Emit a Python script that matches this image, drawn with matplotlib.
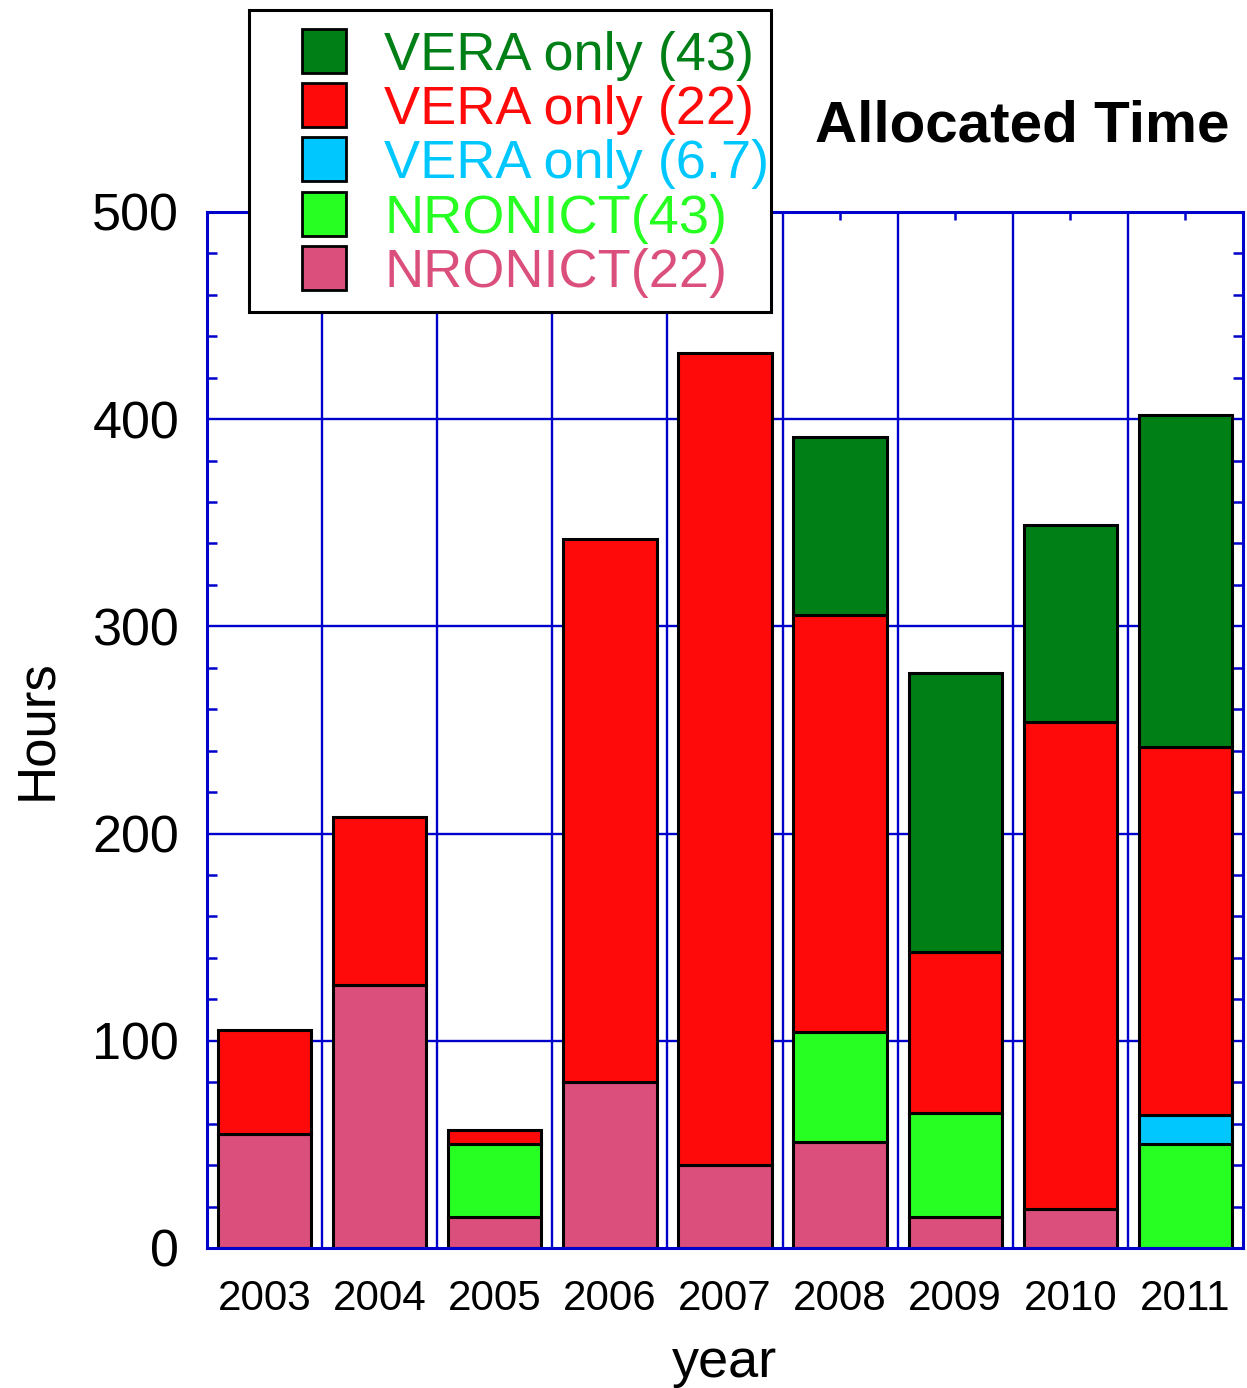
import numpy as np
import matplotlib
matplotlib.use("Agg")
import matplotlib.pyplot as plt
from matplotlib.lines import Line2D
from matplotlib.patches import Rectangle

plt.rcParams['font.family'] = ['Liberation Sans', 'DejaVu Sans']

years = ['2003', '2004', '2005', '2006', '2007', '2008', '2009', '2010', '2011']
nronict22 = [55, 127, 15, 80, 40, 51, 15, 19, 0]
nronict43 = [0, 0, 35, 0, 0, 53, 50, 0, 50]
vera67 = [0, 0, 0, 0, 0, 0, 0, 0, 14]
vera22 = [50, 81, 7, 262, 392, 201.5, 78, 235, 178]
vera43 = [0, 0, 0, 0, 0, 86, 134.5, 95, 160]

series = [
    ("NRONICT(22)", nronict22, '#DB4F7C'),
    ("NRONICT(43)", nronict43, '#27FF22'),
    ("VERA only (6.7)", vera67, '#00C8FF'),
    ("VERA only (22)", vera22, '#FF0A0A'),
    ("VERA only (43)", vera43, '#007F16'),
]

blue = '#0000CC'

fig = plt.figure(figsize=(12.47, 13.88), dpi=100)
ax = fig.add_axes([0.166, 0.1009, 0.8308, 0.7464])

x = np.arange(1, len(years) + 1)
bottom = np.zeros(len(years))
for name, vals, col in series:
    vals = np.array(vals, dtype=float)
    m = vals > 0
    ax.bar(x[m], vals[m], bottom=bottom[m], width=0.81, color=col,
           edgecolor='black', linewidth=2.2, zorder=3)
    bottom += vals

ax.set_xlim(0.5, len(years) + 0.5)
ax.set_ylim(0, 500)

# grid: horizontal at major y ticks, vertical between categories
for yv in [100, 200, 300, 400]:
    ax.axhline(yv, color=blue, linewidth=1.7, zorder=1)
for xv in x[:-1] + 0.5:
    ax.axvline(xv, color=blue, linewidth=1.7, zorder=1)

ax.set_xticks(x)
ax.set_xticklabels(years)
ax.set_yticks([0, 100, 200, 300, 400, 500])
ax.set_yticks(np.arange(0, 501, 20), minor=True)

ax.tick_params(axis='x', which='major', direction='in', length=6, width=1.8,
               color=blue, top=True, bottom=True, labelsize=30.3, pad=22)
ax.tick_params(axis='y', which='major', direction='in', length=0, width=1.8,
               color=blue, left=True, right=True, labelsize=37.5, pad=20)
ax.tick_params(axis='y', which='minor', direction='in', length=7, width=1.8,
               color=blue, left=True, right=True)

for s in ax.spines.values():
    s.set_color(blue)
    s.set_linewidth(2.2)
    s.set_zorder(5)

ax.set_xlabel('year', fontsize=39, labelpad=14)
ax.set_ylabel('Hours', fontsize=38, labelpad=22)

fig.text(0.9856, 0.8977, 'Allocated Time', fontsize=42, fontweight='bold',
         ha='right', va='baseline')

# legend box (text runs right up to the frame, as in the original)
W, H = fig.get_size_inches() * fig.dpi
fig.patches.append(Rectangle((249 / W, 1 - 312 / H), 522 / W, 302 / H,
                             transform=fig.transFigure, facecolor='white',
                             edgecolor='black', linewidth=2.2, zorder=4))

handles = []
labels = []
for name, vals, col in series[::-1]:
    handles.append(Line2D([], [], linestyle='none', marker='s', markersize=31,
                          markerfacecolor=col, markeredgecolor='black',
                          markeredgewidth=2.0))
    labels.append(name)

leg = fig.legend(handles, labels, loc='upper left',
                 bbox_to_anchor=(0.1997, 0.9928), fontsize=39,
                 frameon=False, borderpad=0.38, labelspacing=0.08,
                 handlelength=2.0, handletextpad=0.12, borderaxespad=0)
leg.set_zorder(6)
for t, (name, vals, col) in zip(leg.get_texts(), series[::-1]):
    t.set_color(col)

fig.savefig('out.png', dpi=100)
